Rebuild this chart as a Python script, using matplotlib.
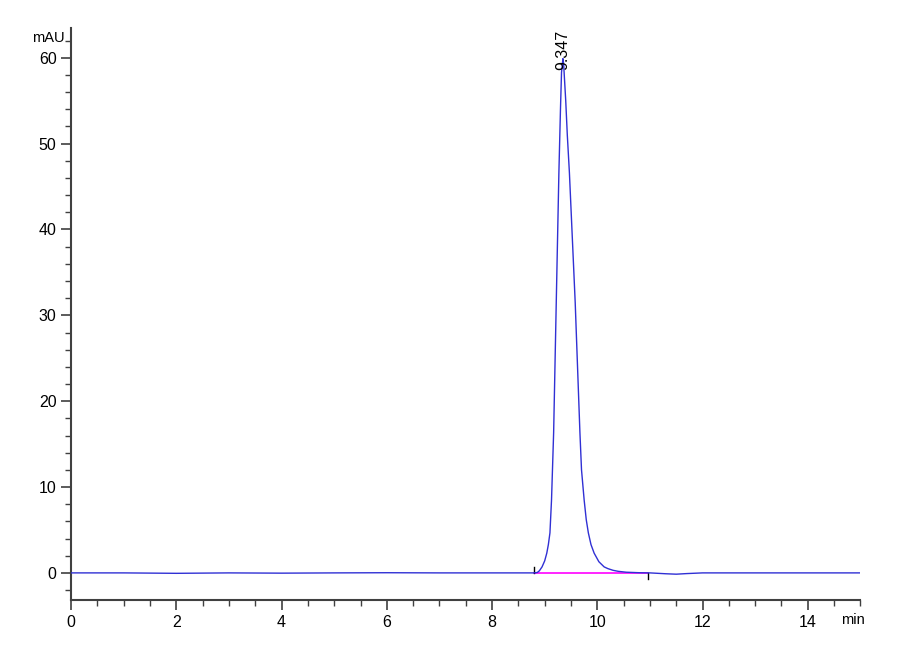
import matplotlib
matplotlib.use("Agg")
import matplotlib.pyplot as plt
from matplotlib.ticker import MultipleLocator

plt.rcParams["font.family"] = ["Liberation Sans Narrow", "Liberation Sans", "DejaVu Sans"]

# chromatogram trace (min, mAU)
time_min = [0, 1, 2, 3, 4, 5, 6, 7, 8, 8.5, 8.8, 8.86, 8.90, 8.95, 9.00, 9.04,
            9.07, 9.10, 9.13, 9.17, 9.22, 9.27, 9.30, 9.32, 9.347, 9.36, 9.40,
            9.43, 9.47, 9.58, 9.67, 9.70, 9.75, 9.79, 9.83, 9.88, 9.94, 10.03,
            10.13, 10.2, 10.3, 10.4, 10.55, 10.8, 11.0, 11.3, 11.5, 11.7, 12,
            13, 14, 15]
signal_mau = [0, 0, -0.05, 0, -0.03, 0, 0.02, 0, 0, 0, 0, 0.05, 0.25, 0.7, 1.4, 2.3,
              3.3, 4.66, 8.5, 16.3, 31.5, 46.6, 54.0, 58.3, 59.9, 59.3, 55.0,
              51.0, 46.6, 31.5, 16.3, 12.0, 8.5, 6.2, 4.66, 3.3, 2.3, 1.3,
              0.7, 0.5, 0.3, 0.18, 0.08, 0.02, 0, -0.1, -0.15, -0.08, 0,
              0, 0, 0]

peak_rt = 9.347
peak_height = 59.9
peak_label = "9.347"
baseline_start = 8.80
baseline_end = 10.97

fig = plt.figure(figsize=(9, 6.6), dpi=100)
ax = fig.add_axes([0.079, 0.091, 0.877, 0.867])

ax.plot(time_min, signal_mau, color="#3030d4", lw=1.0, zorder=3)
ax.plot([baseline_start, baseline_end], [0, 0], color="#ff00ff", lw=1.2, zorder=2)
# integration markers
ax.plot([baseline_start, baseline_start], [0, 0.7], color="black", lw=1.0)
ax.plot([baseline_end, baseline_end], [0, -0.7], color="black", lw=1.0)

ax.text(peak_rt, peak_height - 1.3, peak_label, rotation=90, ha="center", va="bottom",
        fontsize=11.5, color="black")

ax.set_xlim(0, 15)
ax.set_ylim(-3.15, 63.5)
ax.xaxis.set_major_locator(MultipleLocator(2))
ax.xaxis.set_minor_locator(MultipleLocator(0.5))
ax.yaxis.set_major_locator(MultipleLocator(10))
ax.yaxis.set_minor_locator(MultipleLocator(2))

for side in ("top", "right"):
    ax.spines[side].set_visible(False)
for side in ("left", "bottom"):
    ax.spines[side].set_color("#404040")
    ax.spines[side].set_linewidth(1.5)

ax.tick_params(which="major", length=7, width=1.2, color="#404040", labelsize=11.5)
ax.tick_params(which="minor", length=4, width=1.0, color="#404040")

fig.text(0.054, 0.943, "mAU", fontsize=10.5, ha="center", va="center")
fig.text(0.948, 0.061, "min", fontsize=10.5, ha="center", va="center")

fig.savefig("out.png", dpi=100)
